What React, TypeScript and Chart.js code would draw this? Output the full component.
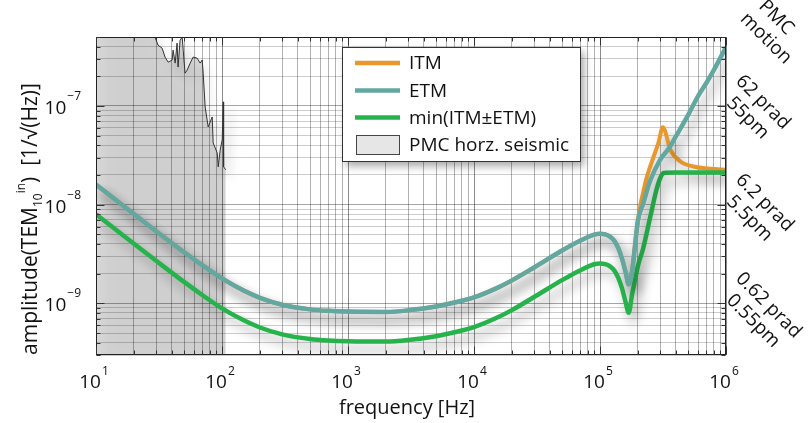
import React, { useEffect, useRef } from "react";
import { Chart, registerables } from "chart.js";

Chart.register(...registerables);

const FONT = "'Open Sans', 'Liberation Sans', sans-serif";

// ---------- data ----------
const freqETM = [10, 15, 20, 30, 50, 70, 100, 150, 200, 300, 500, 700, 1000, 2000, 3000, 5000, 7000, 1e4, 1.5e4, 2e4, 3e4, 5e4, 7e4, 9e4, 1e5, 1.1e5, 1.2e5, 1.3e5, 1.4e5, 1.5e5, 1.6e5, 1.69e5, 1.8e5, 1.9e5, 2e5, 2.2e5, 2.5e5, 3e5, 3.5e5, 4e5, 5e5, 6e5, 7e5, 8e5, 1e6];
const ampETM = [1.6e-8, 1.07e-8, 8.04e-9, 5.39e-9, 3.3e-9, 2.43e-9, 1.79e-9, 1.34e-9, 1.14e-9, 9.7e-10, 8.7e-10, 8.4e-10, 8.26e-10, 8.2e-10, 8.5e-10, 9.3e-10, 1.02e-9, 1.15e-9, 1.42e-9, 1.71e-9, 2.31e-9, 3.43e-9, 4.33e-9, 4.98e-9, 5.09e-9, 5.0e-9, 4.75e-9, 4.3e-9, 3.6e-9, 2.8e-9, 2.05e-9, 1.56e-9, 2.1e-9, 3.89e-9, 6.89e-9, 1.02e-8, 1.75e-8, 2.85e-8, 3.68e-8, 4.92e-8, 8.07e-8, 1.26e-7, 1.72e-7, 2.31e-7, 3.95e-7];

const freqITM = [10, 15, 20, 30, 50, 70, 100, 150, 200, 300, 500, 700, 1000, 2000, 3000, 5000, 7000, 1e4, 1.5e4, 2e4, 3e4, 5e4, 7e4, 9e4, 1e5, 1.1e5, 1.2e5, 1.3e5, 1.4e5, 1.5e5, 1.6e5, 1.69e5, 1.8e5, 1.9e5, 2.02e5, 2.29e5, 2.61e5, 2.91e5, 3.15e5, 3.62e5, 4.35e5, 5.51e5, 7.52e5, 1e6];
const ampITM = [1.6e-8, 1.07e-8, 8.04e-9, 5.39e-9, 3.3e-9, 2.43e-9, 1.79e-9, 1.34e-9, 1.14e-9, 9.7e-10, 8.7e-10, 8.4e-10, 8.26e-10, 8.2e-10, 8.5e-10, 9.3e-10, 1.02e-9, 1.15e-9, 1.42e-9, 1.71e-9, 2.31e-9, 3.43e-9, 4.33e-9, 4.98e-9, 5.09e-9, 5.0e-9, 4.75e-9, 4.3e-9, 3.6e-9, 2.8e-9, 2.05e-9, 1.56e-9, 2.2e-9, 4.1e-9, 7.57e-9, 1.67e-8, 2.85e-8, 4.23e-8, 6.1e-8, 3.6e-8, 2.74e-8, 2.44e-8, 2.31e-8, 2.26e-8];

const freqMin = [10, 15, 20, 30, 50, 70, 100, 150, 200, 300, 500, 700, 1000, 2000, 3000, 5000, 7000, 1e4, 1.5e4, 2e4, 3e4, 5e4, 7e4, 9e4, 1e5, 1.1e5, 1.2e5, 1.3e5, 1.4e5, 1.5e5, 1.6e5, 1.69e5, 1.8e5, 1.9e5, 2e5, 2.2e5, 2.5e5, 2.8e5, 3e5, 3.2e5, 4e5, 6e5, 1e6];
const ampMin = [8e-9, 5.35e-9, 4.02e-9, 2.7e-9, 1.65e-9, 1.21e-9, 8.9e-10, 6.7e-10, 5.7e-10, 4.85e-10, 4.35e-10, 4.2e-10, 4.13e-10, 4.1e-10, 4.25e-10, 4.65e-10, 5.1e-10, 5.75e-10, 7.1e-10, 8.55e-10, 1.16e-9, 1.72e-9, 2.17e-9, 2.49e-9, 2.54e-9, 2.5e-9, 2.37e-9, 2.15e-9, 1.8e-9, 1.4e-9, 1.02e-9, 8.05e-10, 1.25e-9, 1.75e-9, 2.4e-9, 3.6e-9, 7.4e-9, 1.4e-8, 1.85e-8, 2.1e-8, 2.12e-8, 2.12e-8, 2.12e-8];

const freqSeismic = [10, 20, 28, 29.4, 31.1, 33.5, 35.3, 37.4, 40.2, 40.9, 42.5, 44.0, 44.8, 46.5, 48.3, 49.2, 50.9, 52.9, 55.9, 59.0, 63.5, 67.1, 69.6, 70.9, 73.5, 77.7, 83.6, 85.1, 91.6, 93.3, 96.8, 100.4, 102.3, 103.0, 107];
const ampSeismic = [3e-6, 2e-6, 8e-7, 4.98e-7, 4.13e-7, 3.85e-7, 3.13e-7, 2.78e-7, 2.92e-7, 3.68e-7, 2.72e-7, 4.33e-7, 2.48e-7, 4.64e-7, 4.98e-7, 3.68e-7, 2.15e-7, 2.31e-7, 2.72e-7, 3.13e-7, 3.05e-7, 2.72e-7, 2.92e-7, 2.15e-7, 9.77e-8, 6.14e-8, 7.74e-8, 4.23e-8, 3.35e-8, 2.42e-8, 3.59e-8, 4.54e-8, 1.1e-7, 2.42e-8, 2.26e-8];

// ---------- axes / labels ----------
const xMin = 10;
const xMax = 1e6;
const yMin = 3e-10;
const yMax = 5e-7;
const xLabelExponents = [1, 2, 3, 4, 5, 6];
const yLabelExponents = [-9, -8, -7];
const minorMultipliers = [1, 2, 3, 4, 5, 6, 7, 8, 9];
const rightLabelValues = [1e-7, 1e-8, 1e-9];
const rightLabelLine1 = ["62 prad", "6.2 prad", "0.62 prad"];
const rightLabelLine2 = ["55pm", "5.5pm", "0.55pm"];
const rightTitle = ["PMC", "motion"];
const xTitle = "frequency [Hz]";
const legendLabels = ["ITM", "ETM", "min(ITM\u00b1ETM)", "PMC horz. seismic"];

const COL_ITM = "#e8982c";
const COL_ETM = "#62a8a1";
const COL_MIN = "#26b34c";

function logTicks(min: number, max: number) {
  const out: { value: number; major: boolean }[] = [];
  const e0 = Math.floor(Math.log10(min));
  const e1 = Math.ceil(Math.log10(max));
  for (let e = e0; e <= e1; e++) {
    for (const m of minorMultipliers) {
      const v = m * Math.pow(10, e);
      if (v >= min * 0.999 && v <= max * 1.001) out.push({ value: v, major: m === 1 });
    }
  }
  return out;
}

function drawPow(ctx: CanvasRenderingContext2D, base: string, exp: string, x: number, y: number, align: string, bs: number, ss: number, rise: number) {
  ctx.font = `${bs}px ${FONT}`;
  const wb = ctx.measureText(base).width;
  ctx.font = `${ss}px ${FONT}`;
  const ws = ctx.measureText(exp).width;
  const gap = 1;
  const total = wb + gap + ws;
  let sx = x;
  if (align === "center") sx = x - total / 2;
  else if (align === "right") sx = x - total;
  ctx.textAlign = "left";
  ctx.textBaseline = "alphabetic";
  ctx.font = `${bs}px ${FONT}`;
  ctx.fillText(base, sx, y);
  ctx.font = `${ss}px ${FONT}`;
  ctx.fillText(exp, sx + wb + gap, y - rise);
}

const decor = {
  id: "decor",
  beforeDatasetsDraw(chart: any) {
    const ctx = chart.ctx;
    ctx.save();
    ctx.shadowColor = "rgba(0,0,0,0.32)";
    ctx.shadowBlur = 12;
    ctx.shadowOffsetX = 5;
    ctx.shadowOffsetY = 8;
  },
  afterDatasetsDraw(chart: any) {
    chart.ctx.restore();
  },
  afterDraw(chart: any) {
    const ctx: CanvasRenderingContext2D = chart.ctx;
    const a = chart.chartArea;
    const xs = chart.scales.x;
    const ys = chart.scales.y;
    ctx.save();
    // frame
    const L = Math.round(a.left) + 0.5;
    const R = Math.round(a.right) - 0.5;
    const T = Math.round(a.top) + 0.5;
    const B = Math.round(a.bottom) - 0.5;
    ctx.strokeStyle = "#222";
    ctx.lineWidth = 1;
    ctx.strokeRect(L, T, R - L, B - T);
    // inward ticks
    ctx.strokeStyle = "#333";
    ctx.beginPath();
    for (const t of logTicks(xMin, xMax)) {
      const px = Math.round(xs.getPixelForValue(t.value)) + 0.5;
      const len = t.major ? 8 : 4;
      ctx.moveTo(px, B); ctx.lineTo(px, B - len);
      ctx.moveTo(px, T); ctx.lineTo(px, T + len);
    }
    for (const t of logTicks(yMin, yMax)) {
      const py = Math.round(ys.getPixelForValue(t.value)) + 0.5;
      const len = t.major ? 8 : 4;
      ctx.moveTo(L, py); ctx.lineTo(L + len, py);
      ctx.moveTo(R, py); ctx.lineTo(R - len, py);
    }
    ctx.stroke();

    ctx.fillStyle = "#111";
    // x tick labels
    for (const e of xLabelExponents) {
      const px = xs.getPixelForValue(Math.pow(10, e));
      drawPow(ctx, "10", String(e), px - 2, 388, "center", 19, 12, 13);
    }
    // y tick labels
    for (const e of yLabelExponents) {
      const py = ys.getPixelForValue(Math.pow(10, e));
      drawPow(ctx, "10", "\u2212" + Math.abs(e), 81, py + 8, "right", 19, 12, 14);
    }
    // x title
    ctx.font = `20px ${FONT}`;
    ctx.textAlign = "center";
    ctx.textBaseline = "alphabetic";
    ctx.fillText(xTitle, 407, 414);

    // y title (rich text, rotated)
    ctx.save();
    ctx.translate(37, 219);
    ctx.rotate(-Math.PI / 2);
    const parts = [
      { t: "amplitude(TEM", s: 21, dy: 0 },
      { t: "10", s: 12, dy: 5 },
      { t: "in", s: 12, dy: -12 },
      { t: ")  [1/\u221a(Hz)]", s: 21, dy: 0 },
    ];
    let tw = 0;
    for (const p of parts) { ctx.font = `${p.s}px ${FONT}`; tw += ctx.measureText(p.t).width; }
    let cx = -tw / 2;
    ctx.textAlign = "left";
    for (const p of parts) {
      ctx.font = `${p.s}px ${FONT}`;
      ctx.fillText(p.t, cx, p.dy);
      cx += ctx.measureText(p.t).width;
    }
    ctx.restore();

    // right labels rotated 45deg
    ctx.font = `19px ${FONT}`;
    ctx.textAlign = "left";
    rightLabelValues.forEach((v, i) => {
      const py = ys.getPixelForValue(v);
      ctx.save();
      ctx.translate(735, py - 24);
      ctx.rotate(Math.PI / 4);
      ctx.fillText(rightLabelLine1[i], 0, 0);
      ctx.fillText(rightLabelLine2[i], 9, 22);
      ctx.restore();
    });
    ctx.save();
    ctx.translate(758, 7);
    ctx.rotate(Math.PI / 4);
    ctx.fillText(rightTitle[0], 0, 0);
    ctx.fillText(rightTitle[1], -4, 22);
    ctx.restore();

    // legend
    const lx = 342, ly = 47, lw = 238, lh = 114;
    ctx.save();
    ctx.shadowColor = "rgba(0,0,0,0.35)";
    ctx.shadowBlur = 8;
    ctx.shadowOffsetX = 4;
    ctx.shadowOffsetY = 5;
    ctx.fillStyle = "#fff";
    ctx.fillRect(lx, ly, lw, lh);
    ctx.restore();
    ctx.strokeStyle = "#333";
    ctx.lineWidth = 1;
    ctx.strokeRect(lx + 0.5, ly + 0.5, lw, lh);
    const rows = [63, 90.5, 117.5, 145];
    const cols = [COL_ITM, COL_ETM, COL_MIN];
    ctx.lineCap = "butt";
    for (let i = 0; i < 3; i++) {
      ctx.strokeStyle = cols[i];
      ctx.lineWidth = 4.5;
      ctx.beginPath();
      ctx.moveTo(355, rows[i]);
      ctx.lineTo(400, rows[i]);
      ctx.stroke();
    }
    ctx.fillStyle = "#e6e6e6";
    ctx.fillRect(356.5, 135.5, 43, 19);
    ctx.strokeStyle = "#444";
    ctx.lineWidth = 1;
    ctx.strokeRect(356.5, 135.5, 43, 19);
    ctx.fillStyle = "#111";
    ctx.font = `19px ${FONT}`;
    ctx.textBaseline = "middle";
    ctx.textAlign = "left";
    legendLabels.forEach((s, i) => ctx.fillText(s, 409, rows[i] + 1));
    ctx.restore();
  },
};

export default function App() {
  const ref = useRef<HTMLCanvasElement>(null);
  useEffect(() => {
    const canvas = ref.current;
    if (!canvas) return;
    const toXY = (f: number[], v: number[]) => f.map((x, i) => ({ x, y: v[i] }));
    const gridColorX = (c: any) => (c.tick && c.tick.major ? "rgba(0,0,0,0.45)" : "rgba(0,0,0,0.3)");
    const gridColorY = (c: any) => (c.tick && c.tick.major ? "rgba(0,0,0,0.35)" : "rgba(0,0,0,0.2)");
    const chart = new Chart(canvas, {
      type: "line",
      data: {
        datasets: [
          {
            label: "ITM",
            data: toXY(freqITM, ampITM),
            borderColor: COL_ITM,
            borderWidth: 4,
            pointRadius: 0,
            cubicInterpolationMode: "monotone",
            order: 2,
          },
          {
            label: "ETM",
            data: toXY(freqETM, ampETM),
            borderColor: COL_ETM,
            borderWidth: 4.5,
            pointRadius: 0,
            cubicInterpolationMode: "monotone",
            order: 0,
          },
          {
            label: "min(ITM\u00b1ETM)",
            data: toXY(freqMin, ampMin),
            borderColor: COL_MIN,
            borderWidth: 4.5,
            pointRadius: 0,
            cubicInterpolationMode: "monotone",
            order: 1,
          },
          {
            label: "PMC horz. seismic",
            data: toXY(freqSeismic, ampSeismic),
            borderColor: "#333",
            borderWidth: 1,
            backgroundColor: "rgba(0,0,0,0.15)",
            fill: "start",
            pointRadius: 0,
            tension: 0,
            order: 3,
          },
        ],
      } as any,
      options: {
        animation: false,
        responsive: false,
        maintainAspectRatio: false,
        layout: { padding: { left: 96, top: 37, right: 82, bottom: 68 } },
        plugins: { legend: { display: false }, tooltip: { enabled: false } },
        scales: {
          x: {
            type: "logarithmic",
            min: xMin,
            max: xMax,
            afterBuildTicks: (s: any) => { s.ticks = logTicks(xMin, xMax); },
            ticks: { display: false },
            grid: { color: gridColorX, lineWidth: 1, drawTicks: false },
            border: { display: false },
          },
          y: {
            type: "logarithmic",
            min: yMin,
            max: yMax,
            afterBuildTicks: (s: any) => { s.ticks = logTicks(yMin, yMax); },
            ticks: { display: false },
            grid: { color: gridColorY, lineWidth: 1, drawTicks: false },
            border: { display: false },
          },
        },
      } as any,
      plugins: [decor],
    });
    return () => chart.destroy();
  }, []);
  return (
    <canvas
      ref={ref}
      width={808}
      height={423}
      style={{ position: "fixed", left: 0, top: 0, width: 808, height: 423, display: "block" }}
    />
  );
}
